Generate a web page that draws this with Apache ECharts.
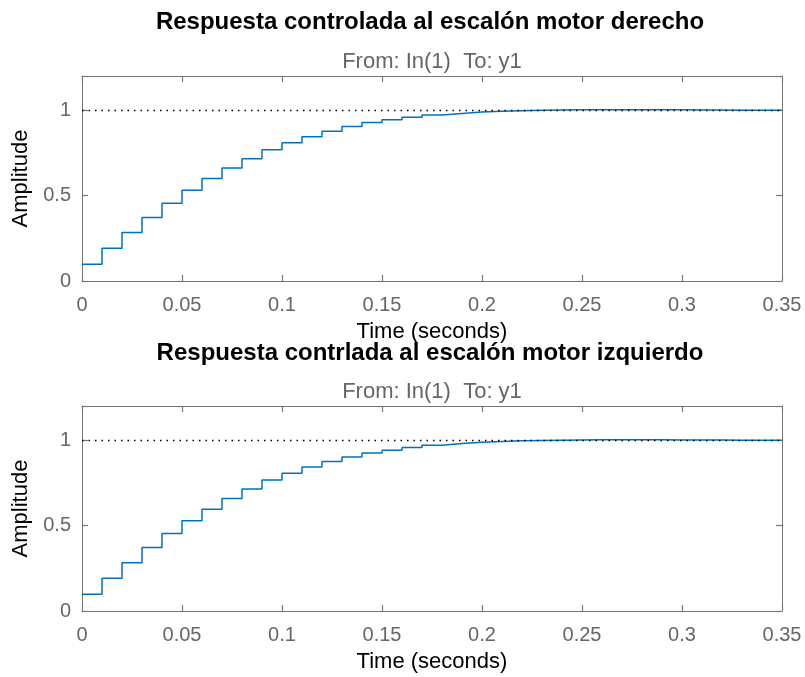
<!DOCTYPE html>
<html lang="es">

<head>
  <meta charset="UTF-8">
  <title>Respuesta al escalón</title>
  <script src="https://cdn.jsdelivr.net/npm/echarts@6/dist/echarts.min.js"></script>
  <style>
    html, body { margin: 0; padding: 0; background: #fff; }
    #chart { width: 805px; height: 677px; }
  </style>
</head>

<body>
  <div id="chart"></div>

  <script>
    // tiempo de muestreo 0.01 s
    const time = [0, 0.01, 0.02, 0.03, 0.04, 0.05, 0.06, 0.07, 0.08, 0.09,
      0.10, 0.11, 0.12, 0.13, 0.14, 0.15, 0.16, 0.17, 0.18, 0.19,
      0.20, 0.21, 0.22, 0.23, 0.24, 0.25, 0.26, 0.27, 0.28, 0.29,
      0.30, 0.31, 0.32, 0.33, 0.34, 0.35]

    // motor derecho
    const yDerecho = [0.098, 0.192, 0.284, 0.372, 0.455, 0.531, 0.600, 0.661, 0.716, 0.768,
      0.810, 0.844, 0.876, 0.904, 0.928, 0.944, 0.959, 0.971, 0.981, 0.989,
      0.994, 0.997, 0.999, 1.001, 1.002, 1.003, 1.003, 1.003, 1.002, 1.002,
      1.001, 1.001, 1.000, 1.000, 1.000, 1.000]

    // motor izquierdo
    const yIzquierdo = [0.098, 0.191, 0.282, 0.372, 0.453, 0.528, 0.596, 0.659, 0.714, 0.767,
      0.806, 0.843, 0.875, 0.901, 0.925, 0.941, 0.957, 0.970, 0.980, 0.988,
      0.992, 0.996, 0.998, 1.000, 1.001, 1.002, 1.002, 1.002, 1.002, 1.001,
      1.001, 1.001, 1.000, 1.000, 1.000, 1.000]

    const finalValue = 1
    const xTicks = { min: 0, max: 0.35, interval: 0.05 }
    const yTicks = { min: 0, max: 1.2, interval: 0.5 }

    const titles = ['Respuesta controlada al escalón motor derecho',
      'Respuesta contrlada al escalón motor izquierdo']
    const subtitle = 'From: In(1)  To: y1'

    const FONT = 'Liberation Sans, Arial, Helvetica, sans-serif'
    const AXIS_GRAY = '#777777'
    const LABEL_GRAY = '#666666'

    const chart = echarts.init(document.getElementById('chart'), null, { renderer: 'canvas' })

    const grids = [
      { left: 82, top: 76, width: 700, height: 205 },
      { left: 82, top: 406, width: 700, height: 205 }
    ]

    // eje inferior con etiquetas + eje superior solo con marcas (caja tipo MATLAB)
    function xAxes(gi) {
      const common = {
        type: 'value', gridIndex: gi,
        min: xTicks.min, max: xTicks.max, interval: xTicks.interval,
        axisLine: { show: true, onZero: false, lineStyle: { color: AXIS_GRAY, width: 1 } },
        axisTick: { show: true, inside: true, length: 6, lineStyle: { color: AXIS_GRAY, width: 1.2 } },
        splitLine: { show: false }
      }
      return [
        Object.assign({}, common, {
          position: 'bottom',
          axisLabel: { fontSize: 20, color: LABEL_GRAY, fontFamily: FONT, margin: 14 },
          name: 'Time (seconds)', nameLocation: 'middle', nameGap: 40,
          nameTextStyle: { fontSize: 22, color: '#000', fontFamily: FONT }
        }),
        Object.assign({}, common, { position: 'top', axisLabel: { show: false } })
      ]
    }

    function yAxes(gi) {
      const common = {
        type: 'value', gridIndex: gi,
        min: yTicks.min, max: yTicks.max, interval: yTicks.interval,
        axisLine: { show: true, onZero: false, lineStyle: { color: AXIS_GRAY, width: 1 } },
        axisTick: { show: true, inside: true, length: 6, lineStyle: { color: AXIS_GRAY, width: 1.2 } },
        splitLine: { show: false }
      }
      return [
        Object.assign({}, common, {
          position: 'left',
          axisLabel: {
            fontSize: 20, color: LABEL_GRAY, fontFamily: FONT, margin: 11,
            formatter: v => (v > 1.1 ? '' : String(v))
          },
          name: 'Amplitude', nameLocation: 'middle', nameGap: 50,
          nameTextStyle: { fontSize: 22, color: '#000', fontFamily: FONT }
        }),
        Object.assign({}, common, { position: 'right', axisLabel: { show: false } })
      ]
    }

    function stepSeries(values, axisIdx) {
      return {
        type: 'line', step: 'end',
        xAxisIndex: axisIdx, yAxisIndex: axisIdx,
        data: time.map((t, i) => [t, values[i]]),
        showSymbol: false, symbol: 'none', silent: true,
        lineStyle: { color: '#0072bd', width: 1.5 },
        markLine: {
          silent: true, symbol: 'none',
          label: { show: false },
          lineStyle: { color: '#000', type: [1.5, 5], width: 1.4 },
          data: [{ yAxis: finalValue }]
        },
        z: 3
      }
    }

    function textEl(txt, x, y, font, fill) {
      return {
        type: 'text', x: x, y: y, silent: true,
        style: { text: txt, font: font, fill: fill, align: 'center', verticalAlign: 'middle' }
      }
    }

    chart.setOption({
      animation: false,
      backgroundColor: '#fff',
      grid: grids,
      xAxis: xAxes(0).concat(xAxes(1)),
      yAxis: yAxes(0).concat(yAxes(1)),
      series: [stepSeries(yDerecho, 0), stepSeries(yIzquierdo, 2)],
      graphic: [
        textEl(titles[0], 430, 22, 'bold 24px ' + FONT, '#000'),
        textEl(subtitle, 432, 62, '22px ' + FONT, LABEL_GRAY),
        textEl(titles[1], 430, 353, 'bold 24px ' + FONT, '#000'),
        textEl(subtitle, 432, 392, '22px ' + FONT, LABEL_GRAY)
      ]
    })
  </script>
</body>

</html>
